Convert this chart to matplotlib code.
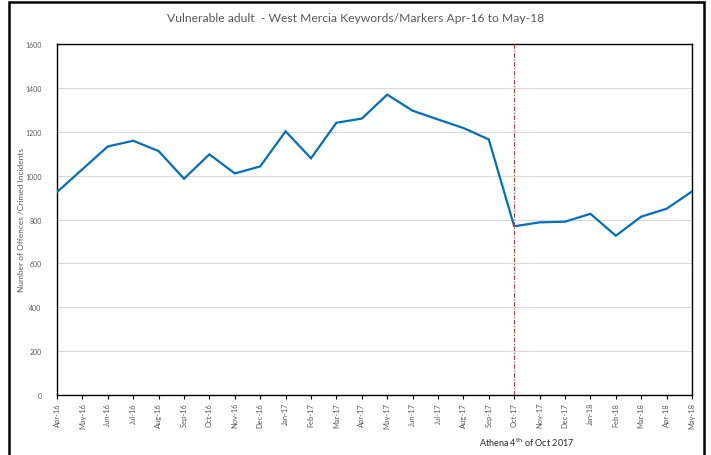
import matplotlib
matplotlib.use("Agg")
import matplotlib.pyplot as plt
from matplotlib.patches import Rectangle

plt.rcParams["font.family"] = ["Lato", "DejaVu Sans"]

# ---------- data ----------
months = ["Apr-16", "May-16", "Jun-16", "Jul-16", "Aug-16", "Sep-16", "Oct-16",
          "Nov-16", "Dec-16", "Jan-17", "Feb-17", "Mar-17", "Apr-17", "May-17",
          "Jun-17", "Jul-17", "Aug-17", "Sep-17", "Oct-17", "Nov-17", "Dec-17",
          "Jan-18", "Feb-18", "Mar-18", "Apr-18", "May-18"]
offences = [925, 1029, 1133, 1159, 1112, 986, 1097, 1010, 1042, 1202, 1079,
            1241, 1260, 1369, 1296, 1256, 1217, 1165, 769, 787, 790, 826,
            726, 813, 849, 928]
athena_month = "Oct-17"
y_ticks = [0, 200, 400, 600, 800, 1000, 1200, 1400, 1600]

W, H = 711, 456
fig = plt.figure(figsize=(W / 100, H / 100), dpi=100)
ax = fig.add_axes([57 / W, 1 - 396 / H, (692 - 57) / W, (396 - 45) / H])

x = list(range(len(months)))
ax.plot(x, offences, color="#0070C0", linewidth=1.6, solid_joinstyle="miter", zorder=3)
ax.axvline(months.index(athena_month), color="#FF2020", linewidth=0.8,
           linestyle=(0, (4, 1.5, 1, 1.5)), zorder=4)

ax.set_xlim(0, len(months) - 1)
ax.set_ylim(0, 1600)
ax.set_yticks(y_ticks)
ax.set_yticklabels([str(v) for v in y_ticks])
ax.set_xticks(x)
ax.set_xticklabels(months, rotation=90)
ax.grid(axis="y", color="#D9D9D9", linewidth=0.8)
ax.set_axisbelow(True)

ax.tick_params(axis="y", length=0, pad=11, labelsize=5, labelcolor="#595959")
ax.tick_params(axis="x", length=3, width=0.8, pad=2, labelsize=5.4, labelcolor="#595959",
               direction="out")
for s in ax.spines.values():
    s.set_color("black")
    s.set_linewidth(1.0)

ax.set_ylabel("Number of Offences /Crimed Incidents", fontsize=6, color="#595959")
ax.yaxis.label.set_va("center")
ax.yaxis.set_label_coords(-(57 - 21.5) / (692 - 57), 0.5)

fig.text(356 / W, 1 - 18 / H, "Vulnerable adult  - West Mercia Keywords/Markers Apr-16 to May-18",
         ha="center", va="center", fontsize=8.7, color="#595959")
fig.text(527 / W, 1 - 443 / H, r"Athena 4$^{\rm th}$ of Oct 2017",
         ha="center", va="center", fontsize=6.5, color="#262626")

# outer frame
fig.patches.append(Rectangle((9 / W, -0.05), (704 - 9) / W, 1.05 - 3 / H,
                             transform=fig.transFigure, fill=False,
                             edgecolor="black", linewidth=1.8))

fig.savefig("out.png", dpi=100)
